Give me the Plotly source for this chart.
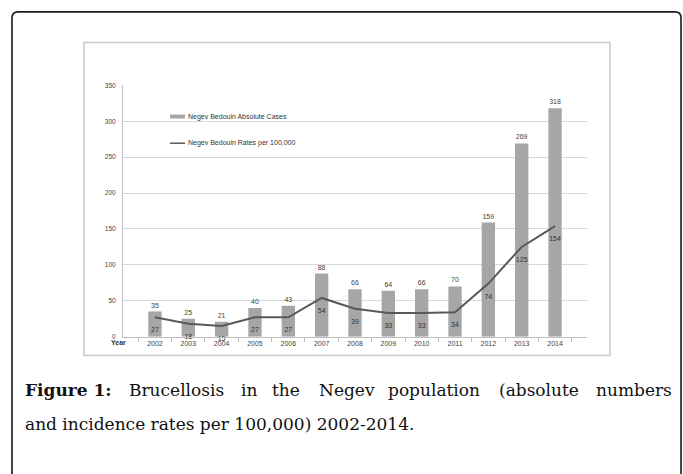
import plotly.graph_objects as go

W, H = 683, 474

years = ["2002", "2003", "2004", "2005", "2006", "2007", "2008",
         "2009", "2010", "2011", "2012", "2013", "2014"]
absolute_cases = [35, 25, 21, 40, 43, 88, 66, 64, 66, 70, 159, 269, 318]
rates_per_100k = [27, 18, 15, 27, 27, 54, 39, 33, 33, 34, 74, 125, 154]

legend_labels = ["Negev Bedouin Absolute Cases", "Negev Bedouin Rates per 100,000"]
caption_line1 = ["Figure 1:", "Brucellosis", "in", "the", "Negev", "population",
                 "(absolute", "numbers"]
caption_line2 = "and incidence rates per 100,000) 2002-2014."


def px(x):
    return x / W


def py(y):
    return (H - y) / H


BAR_COLOR = "#a6a6a6"
LINE_COLOR = "#595959"
TXT = "#3f3f3f"
SANS = "Liberation Sans, Arial, sans-serif"
SERIF = "DejaVu Serif, serif"

fig = go.Figure()
fig.add_trace(go.Bar(
    x=years, y=absolute_cases, name=legend_labels[0],
    marker=dict(color=BAR_COLOR, line=dict(width=0)),
    text=[str(v) for v in absolute_cases], textposition="outside",
    textfont=dict(size=7, color=TXT, family=SANS), cliponaxis=False,
    showlegend=False,
))
fig.add_trace(go.Scatter(
    x=years, y=rates_per_100k, name=legend_labels[1], mode="lines+markers+text",
    line=dict(color=LINE_COLOR, width=2),
    marker=dict(size=14, color="rgba(0,0,0,0)"),
    text=[str(v) for v in rates_per_100k], textposition="bottom center",
    textfont=dict(size=7, color="#333333", family=SANS), cliponaxis=False,
    showlegend=False,
))

shapes = []
# outer rounded frame
x0, x1, y0, y1, r = px(12), px(681), py(9), py(490), 6
rx, ry = r / W, r / H
path = (f"M {x0},{y1} L {x0},{y0 - ry} Q {x0},{y0} {x0 + rx},{y0} "
        f"L {x1 - rx},{y0} Q {x1},{y0} {x1},{y0 - ry} L {x1},{y1}")
shapes.append(dict(type="path", xref="paper", yref="paper", path=path,
                   line=dict(color="#1a1a1a", width=1.6), layer="above"))
# inner chart frame
shapes.append(dict(type="rect", xref="paper", yref="paper",
                   x0=px(84), x1=px(610), y0=py(357), y1=py(40),
                   line=dict(color="#c8c8c8", width=1.5), layer="below"))
# white patches (erased title / legend background) over gridlines
shapes.append(dict(type="rect", xref="paper", yref="paper",
                   x0=px(142), x1=px(553), y0=py(90), y1=py(76),
                   fillcolor="white", line=dict(width=0), layer="between"))
shapes.append(dict(type="rect", xref="paper", yref="paper",
                   x0=px(163), x1=px(316), y0=py(150), y1=py(105),
                   fillcolor="white", line=dict(width=0), layer="between"))
# legend symbols
shapes.append(dict(type="rect", xref="paper", yref="paper",
                   x0=px(170), x1=px(185), y0=py(117), y1=py(113),
                   fillcolor=BAR_COLOR, line=dict(width=0), layer="above"))
shapes.append(dict(type="line", xref="paper", yref="paper",
                   x0=px(170), x1=px(185), y0=py(142), y1=py(142),
                   line=dict(color=LINE_COLOR, width=1.5), layer="above"))

annotations = []
for lbl, yy in zip(legend_labels, [115, 142]):
    annotations.append(dict(text=lbl, xref="paper", yref="paper", x=px(186), y=py(yy),
                            xanchor="left", yanchor="middle", showarrow=False,
                            font=dict(size=7, color="#333333", family=SANS)))
annotations.append(dict(text="<b>Year</b>", xref="paper", yref="paper", x=px(118), y=py(344),
                        xanchor="center", yanchor="middle", showarrow=False,
                        font=dict(size=7, color="#333333", family=SANS)))

starts = [23, 127, 239, 270, 317, 386, 497, None]
for i, (w, sx) in enumerate(zip(caption_line1, starts)):
    t = f"<b>{w}</b>" if i == 0 else w
    if sx is None:
        xa, xx = "right", 674
    else:
        xa, xx = "left", sx
    annotations.append(dict(text=t, xref="paper", yref="paper", x=px(xx), y=py(392),
                            xanchor=xa, yanchor="middle", showarrow=False,
                            font=dict(size=17, color="#111111", family=SERIF)))
annotations.append(dict(text=caption_line2, xref="paper", yref="paper", x=px(23), y=py(426),
                        xanchor="left", yanchor="middle", showarrow=False,
                        font=dict(size=17, color="#111111", family=SERIF)))

fig.update_layout(
    width=W, height=H, autosize=False,
    margin=dict(l=0, r=0, t=0, b=0),
    paper_bgcolor="white", plot_bgcolor="white",
    bargap=0.6,
    shapes=shapes, annotations=annotations,
    xaxis=dict(domain=[px(123), px(587)], type="category",
               showline=True, linecolor="#bfbfbf", linewidth=1,
               ticks="outside", tickson="boundaries", ticklen=4, tickcolor="#bfbfbf",
               showgrid=False, tickfont=dict(size=7, color=TXT, family=SANS)),
    yaxis=dict(domain=[py(338), py(83)], range=[0, 350.5], dtick=50,
               showline=True, linecolor="#bfbfbf", linewidth=1,
               showgrid=True, gridcolor="#d9d9d9", gridwidth=1, zeroline=False,
               ticks="outside", ticklen=5, tickcolor="rgba(0,0,0,0)",
               tickfont=dict(size=6.5, color=TXT, family=SANS)),
)

fig.write_html("out.html",
               config={"displayModeBar": False},
               post_script="document.body.style.margin='0px';document.body.style.overflow='hidden';")
